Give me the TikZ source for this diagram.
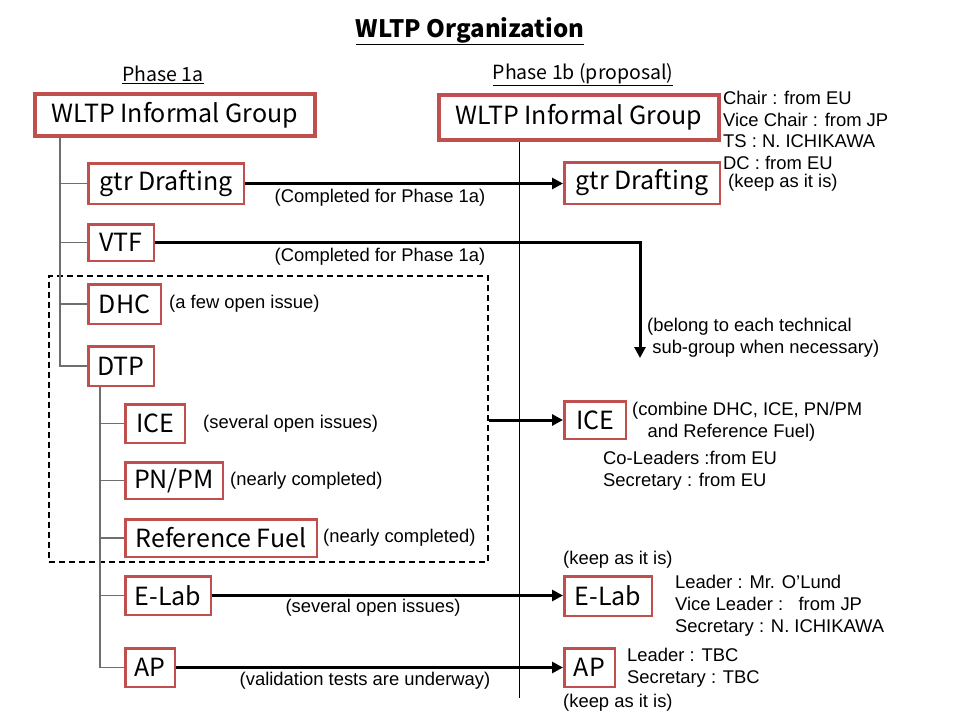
\documentclass[tikz,border=0pt]{standalone}
\usepackage{fontspec}
\setmainfont{Liberation Sans}
\newfontfamily\gothic{Noto Sans CJK JP}
\usetikzlibrary{arrows.meta,positioning}
\definecolor{boxred}{RGB}{192,80,77}
\definecolor{treegrey}{RGB}{110,110,110}
\tikzset{
	grp/.style={draw=boxred,line width=2.5pt,fill=white,inner sep=0pt,
		font=\gothic\fontsize{25}{28}\selectfont},
	biggrp/.style={grp,line width=4pt},
	note/.style={inner sep=0pt,align=left,font=\fontsize{18.4}{21.8}\selectfont},
	tree/.style={draw=treegrey,line width=1.2pt},
	flow/.style={line width=3pt,-{Triangle[length=11pt,width=11pt]}}
}

\begin{document}
\begin{tikzpicture}[x=1pt,y=-1pt]
	\useasboundingbox (0,0) rectangle (960,720);
	% headings
	\node[font=\gothic\bfseries\fontsize{24}{28}\selectfont] (title) at (470,31) {\underline{WLTP Organization}};
	\node[font=\gothic\fontsize{19.5}{22}\selectfont] (ph1a) at (163,75) {\underline{Phase 1a}};
	\node[font=\gothic\fontsize{19.5}{22}\selectfont] (ph1b) at (583,75) {\underline{Phase 1b (proposal)}};
	% working group frame
	\node[draw,dashed,line width=1.5pt,dash pattern=on 6pt off 4pt,inner sep=0pt,
		minimum width=439,minimum height=286] (wg) at (268.5,419) {};
	% phase 1a
	\node[biggrp,minimum width=280,minimum height=42] (igL) at (175,115) {WLTP Informal Group};
	\node[grp,minimum width=155.5,minimum height=40.5] (gtrL) at (166,183.5) {gtr Drafting};
	\node[grp,minimum width=65.5,minimum height=36.5] (vtfL) at (121,242.5) {VTF};
	\node[grp,minimum width=72.5,minimum height=39.5] (dhcL) at (124.5,304) {DHC};
	\node[grp,minimum width=65.5,minimum height=39.5] (dtpL) at (121,366) {DTP};
	\node[grp,minimum width=59.5,minimum height=38.5] (iceL) at (155,423.5) {ICE};
	\node[grp,minimum width=97.5,minimum height=36.5] (pnpmL) at (174,480.5) {PN/PM};
	\node[grp,minimum width=191.5,minimum height=37.5] (fuelL) at (221,538) {Reference Fuel};
	\node[grp,minimum width=85.5,minimum height=38.5] (elabL) at (168,595.5) {E-Lab};
	\node[grp,minimum width=49.5,minimum height=38.5] (apL) at (150,667.5) {AP};
	% phase 1b
	\node[biggrp,minimum width=280,minimum height=45] (igR) at (579,117.5) {WLTP Informal Group};
	\node[grp,minimum width=155.5,minimum height=41.5] (gtrR) at (642,183) {gtr Drafting};
	\node[grp,minimum width=61.5,minimum height=37.5] (iceR) at (595,420) {ICE};
	\node[grp,minimum width=87.5,minimum height=39.5] (elabR) at (608,596) {E-Lab};
	\node[grp,minimum width=50.5,minimum height=38.5] (apR) at (589.5,667.5) {AP};
	% tree lines
	\coordinate (trunk) at (60,138);
	\coordinate (subtrunk) at (100,387);
	\coordinate (rTop) at (519,142);
	\coordinate (rEnd) at (519,698);
	\coordinate (vtfEnd) at (640,358);
	\draw[tree] (trunk) |- (dtpL.west);
	\foreach \b in {gtrL,vtfL,dhcL}
		\draw[tree] (trunk |- \b.west) -- (\b.west);
	\draw[tree] (subtrunk) |- (apL.west);
	\foreach \b in {iceL,pnpmL,fuelL,elabL}
		\draw[tree] (subtrunk |- \b.west) -- (\b.west);
	\draw[line width=1pt] (rTop) -- (rEnd);
	% transitions
	\draw[flow] (gtrL.east) -- (gtrL.east -| gtrR.west);
	\draw[flow] (vtfL.east) -| (vtfEnd);
	\draw[flow] (wg.east |- iceR.west) -- (iceR.west);
	\draw[flow] (elabL.east) -- (elabL.east -| elabR.west);
	\draw[flow] (apL.east) -- (apL.east -| apR.west);
	% notes
	\node[note] (n1) at (380,198) {(Completed for Phase 1a)};
	\node[note] (n2) at (380,257) {(Completed for Phase 1a)};
	\node[note,right=7pt of dhcL] (n3) {(a few open issue)};
	\node[note,anchor=west] (n4) at (647,337.5) {(belong to each technical\\\ sub-group when necessary)};
	\node[note,right=17pt of iceL] (n5) {(several open issues)};
	\node[note,right=6pt of pnpmL] (n6) {(nearly completed)};
	\node[note,right=5pt of fuelL] (n7) {(nearly completed)};
	\node[note] (n8) at (373,608) {(several open issues)};
	\node[note] (n9) at (365,681) {(validation tests are underway)};
	\node[note,anchor=west] (chair) at (723,130.5) {Chair : from EU\\Vice Chair : from JP\\TS : N. ICHIKAWA\\DC : from EU};
	\node[note,right=7pt of gtrR] (keep1) {(keep as it is)};
	\node[note,anchor=west] (comb) at (632,422) {(combine DHC, ICE, PN/PM\\\ \ \ and Reference Fuel)};
	\node[note,anchor=west] (iceLd) at (603,471) {Co-Leaders :from EU\\Secretary : from EU};
	\node[note,above=6pt of elabR.north west,anchor=south west] (keep2) {(keep as it is)};
	\node[note,anchor=west] (elabLd) at (675,606) {Leader : Mr. O'Lund\\Vice Leader :\ \ \ from JP\\Secretary : N. ICHIKAWA};
	\node[note,anchor=west] (apLd) at (627,667.5) {Leader : TBC\\Secretary : TBC};
	\node[note,below=6pt of apR.south west,anchor=north west] (keep3) {(keep as it is)};
\end{tikzpicture}
\end{document}
